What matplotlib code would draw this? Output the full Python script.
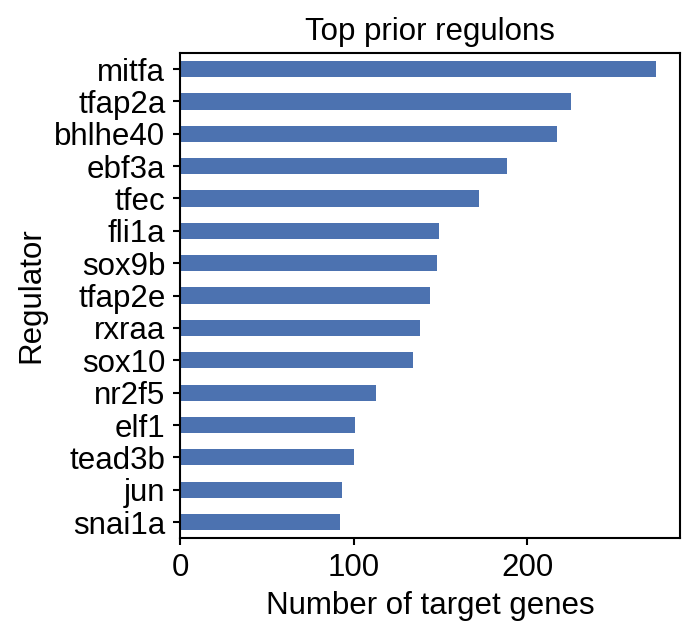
import matplotlib.pyplot as plt

# regulons, top to bottom
regulators = ["mitfa", "tfap2a", "bhlhe40", "ebf3a", "tfec", "fli1a", "sox9b",
              "tfap2e", "rxraa", "sox10", "nr2f5", "elf1", "tead3b", "jun", "snai1a"]
n_targets = [274, 225, 217, 188, 172, 149, 148, 144, 138, 134, 113, 101, 100, 93, 92]

plt.rcParams['font.family'] = ['Liberation Sans', 'DejaVu Sans']
plt.rcParams['font.size'] = 15
plt.rcParams['axes.linewidth'] = 1.0
plt.rcParams['xtick.major.width'] = 1.0
plt.rcParams['ytick.major.width'] = 1.0

fig = plt.figure(figsize=(695 / 150, 637 / 150), dpi=150)
ax = fig.add_axes([0.259, 0.155, 0.719, 0.762])

# reverse so the largest ends up on top
ypos = list(range(len(regulators)))
ax.barh(ypos, n_targets[::-1], height=0.5, color="#4C72B0")
ax.set_yticks(ypos)
ax.set_yticklabels(regulators[::-1])
ax.set_ylim(-0.5, len(regulators) - 0.5)
ax.set_xlim(0, max(n_targets) * 1.05)
ax.set_xticks([0, 100, 200])

ax.set_title("Top prior regulons", fontsize=15)
ax.set_xlabel("Number of target genes", fontsize=15)
ax.set_ylabel("Regulator", fontsize=15)
ax.tick_params(labelsize=15)

fig.savefig("out.png", dpi=150)
